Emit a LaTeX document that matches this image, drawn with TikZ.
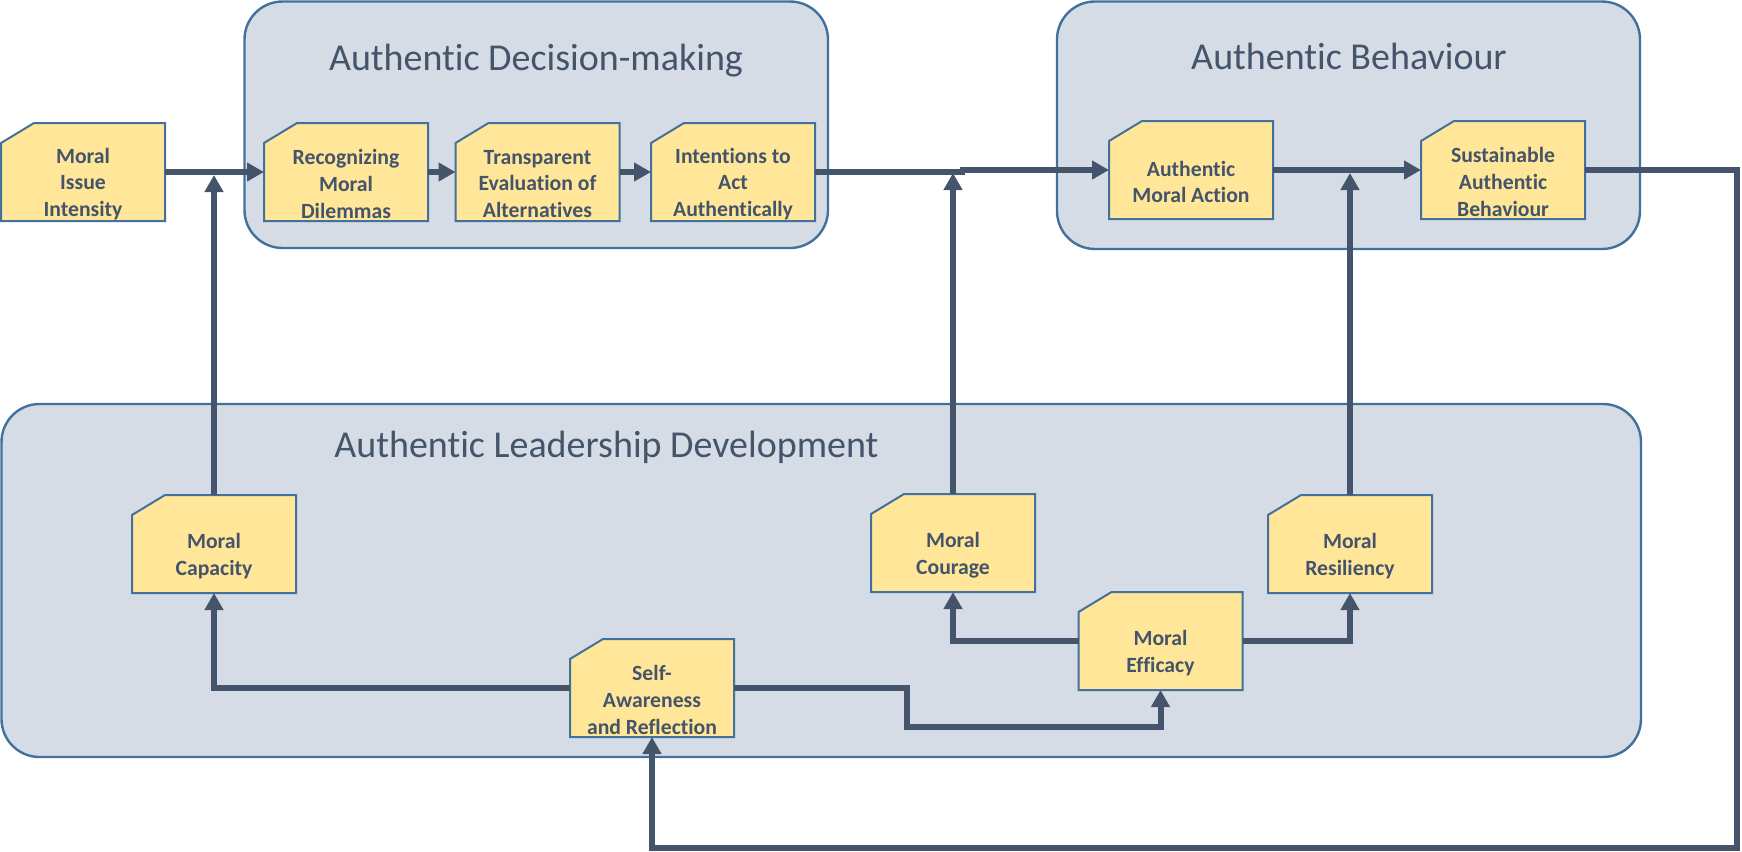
\documentclass[tikz,border=0pt]{standalone}
\usepackage{fontspec}
\setmainfont{Carlito}[Ligatures=NoCommon]
\usetikzlibrary{arrows.meta,calc}
\definecolor{ink}{HTML}{44546A}
\definecolor{panel}{HTML}{D6DCE5}
\definecolor{edge}{HTML}{41719C}
\definecolor{paper}{HTML}{FFE699}
\tikzset{
 panelbox/.style={fill=panel,draw=edge,line width=1.2pt,rounded corners=19pt},
 paneltitle/.style={text=ink,font=\fontsize{19}{23}\selectfont,inner sep=0pt},
 boxshape/.style={fill=paper,draw=edge,line width=1pt},
 boxanchor/.style={minimum width=82pt,minimum height=49pt,inner sep=0pt,outer sep=0pt},
 boxtext/.style={text=ink,font=\bfseries\fontsize{10.85}{13.3}\selectfont,align=center,inner sep=0pt},
 conn/.style={draw=ink,line width=3pt},
 arr/.style={conn,-{Triangle[length=8.5pt,width=9pt]}},
}
\newcommand\ybox[4]{%
 \filldraw[boxshape] (#2-82,#3-29) -- (#2-49,#3-49) -- (#2+82,#3-49) -- (#2+82,#3+49) -- (#2-82,#3+49) -- cycle;
 \node[boxanchor] (#1) at (#2,#3) {};
 \node[boxtext] (#1t) at (#2,#3+12) {#4};
}
\begin{document}
\begin{tikzpicture}[x=0.5pt,y=-0.5pt]
\useasboundingbox (0,0) rectangle (1742,852);
% panels
\draw[panelbox] (244.5,1.5) rectangle (828,248);
\draw[panelbox] (1057,1.5) rectangle (1640,249);
\draw[panelbox] (1.5,404) rectangle (1641,757);
\node[paneltitle,anchor=base] (tdec) at (536,70) {Authentic Decision-making};
\node[paneltitle,anchor=base] (tbeh) at (1349,69) {Authentic Behaviour};
\node[paneltitle,anchor=base west] (tlead) at (334,457) {Authentic Leadership Development};
% boxes
\ybox{issue}{83}{172}{Moral\\Issue\\Intensity}
\ybox{rec}{346}{172}{Recognizing\\Moral\\Dilemmas}
\ybox{trans}{537.5}{172}{Transparent\\Evaluation of\\Alternatives}
\ybox{int}{733}{172}{Intentions to\\Act\\Authentically}
\ybox{ama}{1191}{170}{Authentic\\Moral Action}
\ybox{sus}{1503}{170}{Sustainable\\Authentic\\Behaviour}
\ybox{cap}{214}{544}{Moral\\Capacity}
\ybox{cour}{953}{543}{Moral\\Courage}
\ybox{res}{1350}{544}{Moral\\Resiliency}
\ybox{eff}{1160.5}{641}{Moral\\Efficacy}
\ybox{self}{652}{688}{Self-\\Awareness\\and Reflection}
% connectors
\draw[arr] (issue.east) -- (rec.west);
\draw[arr] (cap.north) -- ($(cap.north |- issue.east)+(0,3)$);
\draw[arr] (rec.east) -- (trans.west);
\draw[arr] (trans.east) -- (int.west);
\coordinate (j1) at (965,172);
\coordinate (j2) at (960,170);
\draw[conn] (int.east) -- (j1);
\draw[arr] (j2) -- (ama.west);
\draw[arr] (cour.north) -- ($(cour.north |- j1)+(0,1)$);
\draw[arr] (ama.east) -- (sus.west);
\draw[arr] (res.north) -- ($(res.north |- ama.east)+(0,3)$);
\coordinate (fb1) at (1737,170);
\coordinate (fb2) at (1737,848);
\draw[arr] (sus.east) -- (fb1) -- (fb2) -- (self.south |- fb2) -- (self.south);
\draw[arr] (self.west) -- (self.west -| cap.south) -- (cap.south);
\coordinate (s1) at (907,688);
\coordinate (s2) at (907,727);
\draw[arr] (self.east) -- (s1) -- (s2) -- (s2 -| eff.south) -- (eff.south);
\draw[arr] (eff.west) -- (eff.west -| cour.south) -- (cour.south);
\draw[arr] (eff.east) -- (eff.east -| res.south) -- (res.south);
\end{tikzpicture}
\end{document}
